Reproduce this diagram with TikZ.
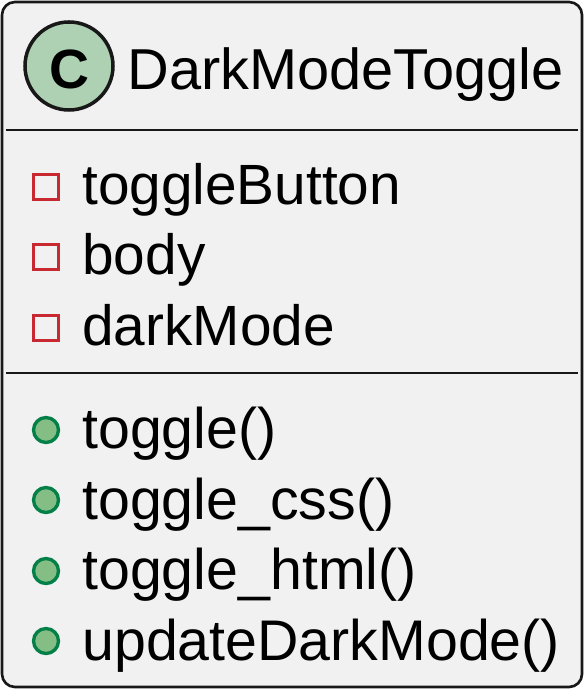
\documentclass[tikz,border=0pt]{standalone}
\usepackage{fontspec}
\setmainfont{Liberation Sans}
\tikzset{
	member/.style={anchor=base west,inner sep=0pt,font=\fontsize{32.3}{36}\selectfont,text=black},
	method/.style={member,font=\fontsize{32.6}{36}\selectfont},
	private/.style={draw=privatered,line width=1.9pt,fill=none,minimum size=0.5cm,inner sep=0pt},
	public/.style={circle,draw=publicgreen,fill=publicfill,line width=1.9pt,minimum size=0.5cm,inner sep=0pt},
	divider/.style={line width=1.3pt,draw=linegray}
}
\definecolor{boxfill}{HTML}{F1F1F1}
\definecolor{linegray}{HTML}{181818}
\definecolor{badgefill}{HTML}{ADD1B2}
\definecolor{privatered}{HTML}{C82930}
\definecolor{publicgreen}{HTML}{038048}
\definecolor{publicfill}{HTML}{84BE84}
\begin{document}
\begin{tikzpicture}
	\useasboundingbox (0,0) rectangle (11.68,-13.78);

	% box
	\draw[fill=boxfill,line width=1.5pt,draw=linegray,rounded corners=0.26cm] (0.04,-0.04) rectangle (11.64,-13.74);
	\draw[divider] (0.12,-2.6) -- (11.56,-2.6);
	\draw[divider] (0.12,-7.46) -- (11.56,-7.46);

	% title
	\node[circle,draw=linegray,fill=badgefill,line width=2pt,minimum size=1.76cm,inner sep=0pt] (badge) at (1.38,-1.32) {};
	\node[anchor=base,inner sep=0pt,font=\fontsize{31.5}{36}\bfseries\selectfont,text=black] (badgeletter) at (1.39,-1.77) {C};
	\node[anchor=base west,inner sep=0pt,font=\fontsize{32.85}{36}\selectfont] (title) at (2.54,-1.79) {DarkModeToggle};

	% fields
	\node[private] (markbutton) at (0.92,-3.74) {};
	\node[member] (togglebutton) at (1.64,-4.09) {toggleButton};
	\node[private] (markbody) at (0.92,-5.14) {};
	\node[member] (body) at (1.64,-5.5) {body};
	\node[private] (markdark) at (0.92,-6.56) {};
	\node[member] (darkmode) at (1.64,-6.9) {darkMode};

	% methods
	\node[public] (marktoggle) at (0.92,-8.6) {};
	\node[method] (toggle) at (1.64,-8.97) {toggle()};
	\node[public] (markcss) at (0.92,-10) {};
	\node[method] (togglecss) at (1.64,-10.38) {toggle\_css()};
	\node[public] (markhtml) at (0.92,-11.42) {};
	\node[method] (togglehtml) at (1.64,-11.79) {toggle\_html()};
	\node[public] (markupdate) at (0.92,-12.82) {};
	\node[method] (update) at (1.64,-13.2) {updateDarkMode()};
\end{tikzpicture}
\end{document}
